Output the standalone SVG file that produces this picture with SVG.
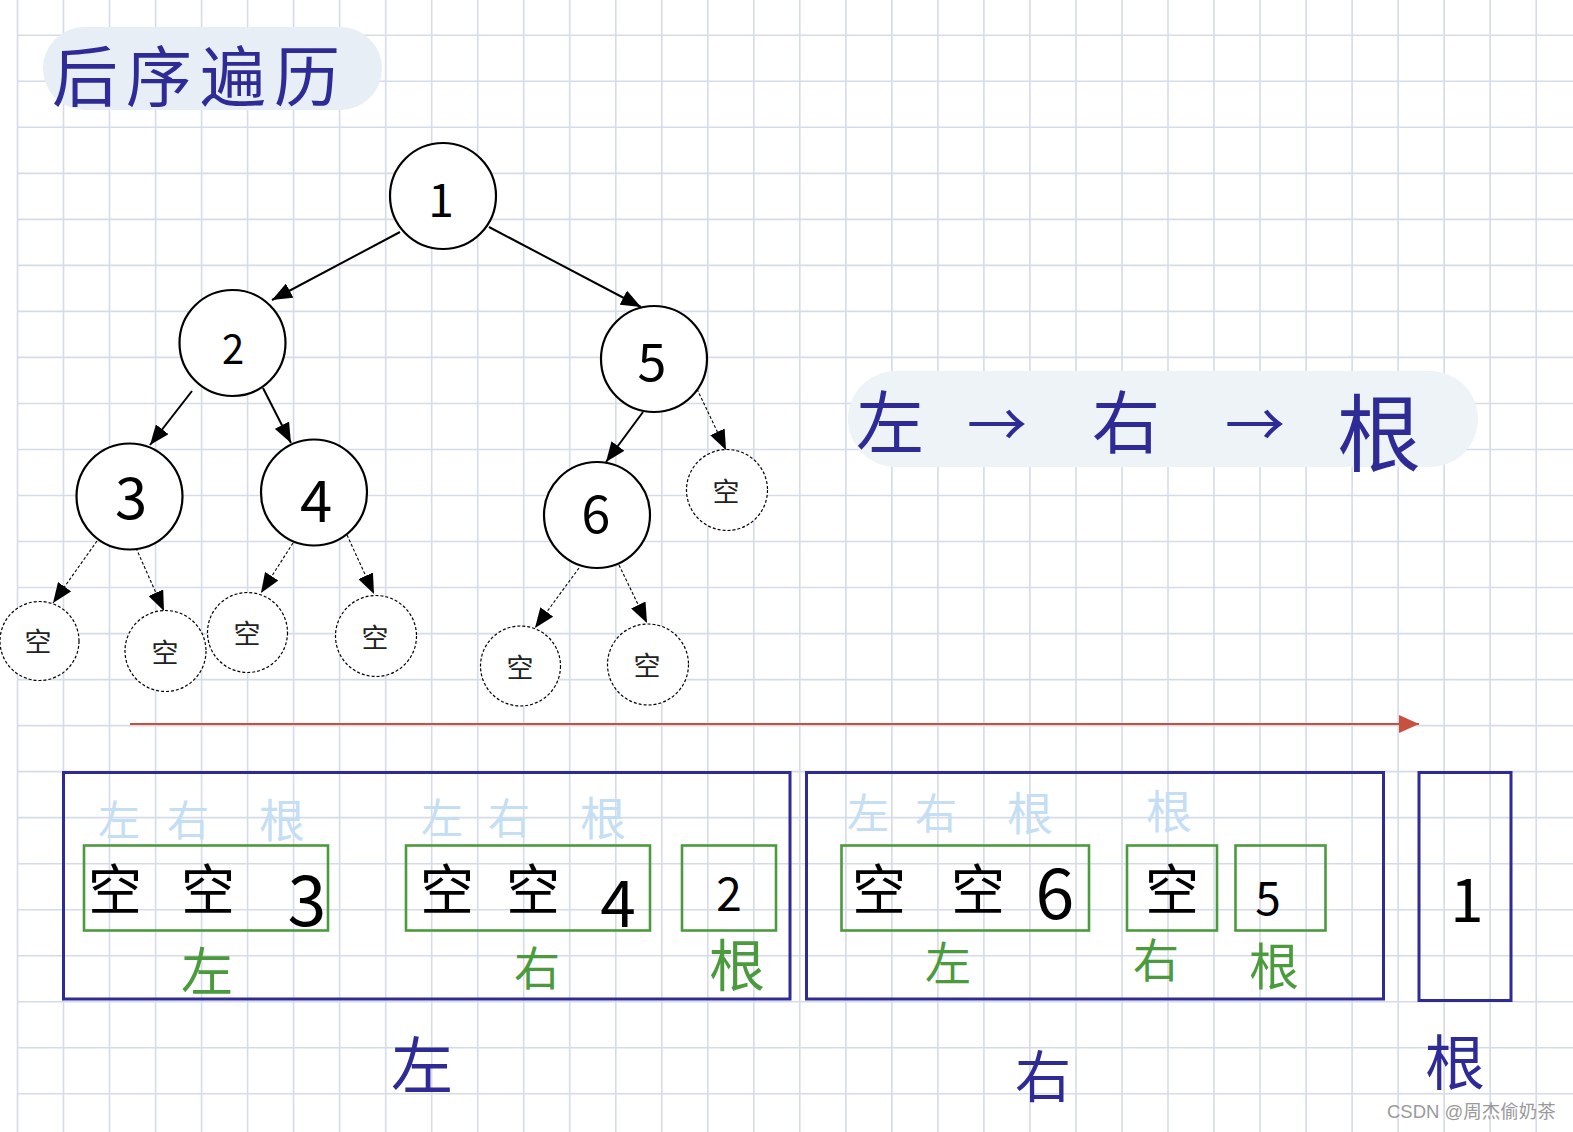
<svg xmlns="http://www.w3.org/2000/svg" width="1573" height="1132" viewBox="0 0 1573 1132">
<defs>
<style>
.grid{stroke:#d5dbe9;stroke-width:1.6;fill:none}
.node{fill:#fff;stroke:#000;stroke-width:2.2}
.empty{fill:#fff;stroke:#000;stroke-width:1.2;stroke-dasharray:3 2}
.edge{stroke:#000;stroke-width:2;fill:none}
.dedge{stroke:#000;stroke-width:1.1;stroke-dasharray:3 2;fill:none}
.t{font-family:"Noto Sans CJK SC","Liberation Sans",sans-serif;text-anchor:middle;dominant-baseline:central}
.blk{fill:#000}
.dk{fill:#2e2b96}
.lb{fill:#c4def3}
.gr{fill:#4b9b3e}
.outer{fill:none;stroke:#2e2b96;stroke-width:3}
.inner{fill:none;stroke:#4b9b3e;stroke-width:2.6}
.sm{fill:#222;font-size:27px}
</style>
<marker id="ah" viewBox="0 0 20 16" refX="20" refY="8" markerWidth="20" markerHeight="16" markerUnits="userSpaceOnUse" orient="auto">
<path d="M0,0 L20,8 L0,16 Z" fill="#000"/>
</marker>
<marker id="ahr" viewBox="0 0 20 18" refX="20" refY="9" markerWidth="20" markerHeight="18" markerUnits="userSpaceOnUse" orient="auto">
<path d="M0,0 L20,9 L0,18 Z" fill="#c8503e"/>
</marker>
</defs>
<rect width="1573" height="1132" fill="#fff"/>
<g id="grid">
<path class="grid" d="M17.5,0V1132M63.5,0V1132M109.5,0V1132M155.6,0V1132M201.6,0V1132M247.6,0V1132M293.6,0V1132M339.6,0V1132M385.7,0V1132M431.7,0V1132M477.7,0V1132M523.7,0V1132M569.7,0V1132M615.8,0V1132M661.8,0V1132M707.8,0V1132M753.8,0V1132M799.8,0V1132M845.9,0V1132M891.9,0V1132M937.9,0V1132M983.9,0V1132M1029.9,0V1132M1076,0V1132M1122,0V1132M1168,0V1132M1214,0V1132M1260,0V1132M1306.1,0V1132M1352.1,0V1132M1398.1,0V1132M1444.1,0V1132M1490.1,0V1132M1536.2,0V1132"/>
<path class="grid" d="M17.5,35.3H1573M17.5,81.3H1573M17.5,127.3H1573M17.5,173.4H1573M17.5,219.4H1573M17.5,265.4H1573M17.5,311.4H1573M17.5,357.4H1573M17.5,403.5H1573M17.5,449.5H1573M17.5,495.5H1573M17.5,541.5H1573M17.5,587.5H1573M17.5,633.6H1573M17.5,679.6H1573M17.5,725.6H1573M17.5,771.6H1573M17.5,817.6H1573M17.5,863.7H1573M17.5,909.7H1573M17.5,955.7H1573M17.5,1001.7H1573M17.5,1047.7H1573M17.5,1093.8H1573"/>
</g>
<g id="title">
<rect x="43" y="27" width="339" height="83" rx="41.5" fill="#e7eef6"/>
<text class="t dk" x="200" y="72" font-size="66" letter-spacing="8">后序遍历</text>
</g>
<g id="order-label">
<rect x="848" y="371" width="630" height="96" rx="48" fill="#eef3f8"/>
<text class="t dk" x="890" y="418" font-size="68">左</text>
<text class="t dk" x="997" y="420" font-size="60">→</text>
<text class="t dk" x="1126" y="418" font-size="68">右</text>
<text class="t dk" x="1255" y="420" font-size="60">→</text>
<text class="t dk" x="1379" y="428" font-size="84">根</text>
</g>
<g id="connectors">
<path class="edge" d="M400,232L272,300" marker-end="url(#ah)"/>
<path class="edge" d="M489,227L641,307" marker-end="url(#ah)"/>
<path class="edge" d="M192,391L150,445" marker-end="url(#ah)"/>
<path class="edge" d="M263,388L291,443" marker-end="url(#ah)"/>
<path class="edge" d="M643,412L606,462" marker-end="url(#ah)"/>
<path class="dedge" d="M697,389L726,450" marker-end="url(#ah)"/>
<path class="dedge" d="M97,541L53,603" marker-end="url(#ah)"/>
<path class="dedge" d="M136,548L164,611" marker-end="url(#ah)"/>
<path class="dedge" d="M293,543L261,593" marker-end="url(#ah)"/>
<path class="dedge" d="M347,535L374,594" marker-end="url(#ah)"/>
<path class="dedge" d="M579,568L535,628" marker-end="url(#ah)"/>
<path class="dedge" d="M619,565L647,623" marker-end="url(#ah)"/>
<path d="M130,724H1419" stroke="#c8503e" stroke-width="2" fill="none" marker-end="url(#ahr)"/>
</g>
<g id="node-1"><circle class="node" cx="443" cy="196" r="53"/><text class="t blk" x="441" y="197" font-size="46">1</text></g>
<g id="node-2"><circle class="node" cx="232.5" cy="343" r="53"/><text class="t blk" x="233" y="347" font-size="40">2</text></g>
<g id="node-5"><circle class="node" cx="654" cy="359" r="53"/><text class="t blk" x="652" y="358" font-size="52">5</text></g>
<g id="node-3"><circle class="node" cx="129.5" cy="496.5" r="53"/><text class="t blk" x="131" y="494" font-size="58">3</text></g>
<g id="node-4"><circle class="node" cx="314" cy="492.5" r="53"/><text class="t blk" x="316" y="497" font-size="58">4</text></g>
<g id="node-6"><circle class="node" cx="597" cy="515" r="53"/><text class="t blk" x="596" y="510" font-size="52">6</text></g>
<g id="empty-5r"><circle class="empty" cx="727" cy="490" r="40.5"/><text class="t sm" x="726" y="490">空</text></g>
<g id="empty-3l"><circle class="empty" cx="39.5" cy="641" r="39.5"/><text class="t sm" x="38" y="640">空</text></g>
<g id="empty-3r"><circle class="empty" cx="165.5" cy="651" r="40.5"/><text class="t sm" x="165" y="651">空</text></g>
<g id="empty-4l"><circle class="empty" cx="247.5" cy="632.5" r="40"/><text class="t sm" x="247" y="632">空</text></g>
<g id="empty-4r"><circle class="empty" cx="376" cy="636" r="40.5"/><text class="t sm" x="375" y="636">空</text></g>
<g id="empty-6l"><circle class="empty" cx="520.5" cy="666" r="40"/><text class="t sm" x="520" y="666">空</text></g>
<g id="empty-6r"><circle class="empty" cx="648" cy="664.5" r="40.5"/><text class="t sm" x="647" y="664">空</text></g>
<g id="box-left">
<rect class="outer" x="63.5" y="772.5" width="726.5" height="226.5"/>
<text class="t lb" x="119" y="817" font-size="42">左</text>
<text class="t lb" x="188" y="817" font-size="42">右</text>
<text class="t lb" x="282" y="817" font-size="46">根</text>
<text class="t lb" x="442" y="815" font-size="42">左</text>
<text class="t lb" x="509" y="815" font-size="42">右</text>
<text class="t lb" x="603" y="815" font-size="46">根</text>
<rect class="inner" x="84" y="845.5" width="244" height="85"/>
<text class="t blk" x="115" y="886" font-size="54">空</text>
<text class="t blk" x="208" y="886" font-size="54">空</text>
<text class="t blk" x="307" y="895" font-size="70">3</text>
<rect class="inner" x="406" y="845.5" width="244" height="85"/>
<text class="t blk" x="447" y="886" font-size="54">空</text>
<text class="t blk" x="533" y="886" font-size="54">空</text>
<text class="t blk" x="618" y="899" font-size="64">4</text>
<rect class="inner" x="682" y="845.5" width="94" height="85"/>
<text class="t blk" x="729" y="891" font-size="46">2</text>
<text class="t gr" x="207" y="968" font-size="52">左</text>
<text class="t gr" x="537" y="965" font-size="46">右</text>
<text class="t gr" x="737" y="961" font-size="56">根</text>
</g>
<g id="box-right">
<rect class="outer" x="806.5" y="772.5" width="577" height="226.5"/>
<text class="t lb" x="868" y="810" font-size="42">左</text>
<text class="t lb" x="936" y="810" font-size="42">右</text>
<text class="t lb" x="1030" y="810" font-size="46">根</text>
<text class="t lb" x="1169" y="808" font-size="46">根</text>
<rect class="inner" x="841.5" y="845.5" width="247.5" height="85"/>
<text class="t blk" x="879" y="886" font-size="54">空</text>
<text class="t blk" x="978" y="886" font-size="54">空</text>
<text class="t blk" x="1055" y="888" font-size="70">6</text>
<rect class="inner" x="1127" y="845.5" width="90" height="85"/>
<text class="t blk" x="1172" y="886" font-size="54">空</text>
<rect class="inner" x="1235.5" y="845.5" width="90" height="85"/>
<text class="t blk" x="1268" y="895" font-size="46">5</text>
<text class="t gr" x="948" y="960" font-size="46">左</text>
<text class="t gr" x="1156" y="957" font-size="46">右</text>
<text class="t gr" x="1274" y="963" font-size="50">根</text>
</g>
<g id="box-root">
<rect class="outer" x="1419" y="772.5" width="92" height="228"/>
<text class="t blk" x="1467" y="895" font-size="60">1</text>
</g>
<g id="bottom-labels">
<text class="t dk" x="422" y="1062" font-size="62">左</text>
<text class="t dk" x="1043" y="1072" font-size="56">右</text>
<text class="t dk" x="1455" y="1058" font-size="60">根</text>
</g>
<text x="1387" y="1118" font-family="'Liberation Sans','Noto Sans CJK SC',sans-serif" font-size="18.5" fill="#9a9a9a">CSDN @周杰偷奶茶</text>
</svg>
